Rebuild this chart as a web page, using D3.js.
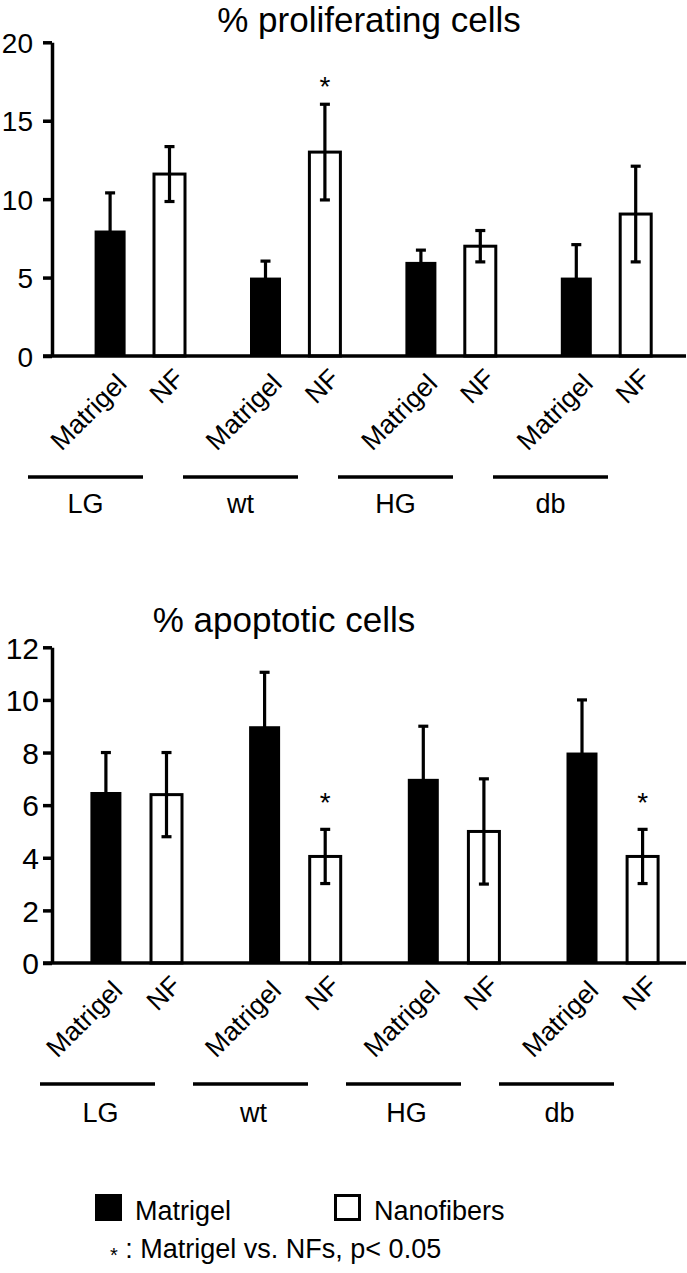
<!DOCTYPE html>
<html><head><meta charset="utf-8">
<script src="https://cdn.jsdelivr.net/npm/d3@7"></script>
<style>
body{margin:0;background:#fff}
svg text{font-family:"Liberation Sans",Arial,Helvetica,sans-serif;fill:#000}
</style>
</head><body>
<svg id="chart" width="687" height="1273"></svg>
<script>
// ---------- data ----------
const groups = ["LG", "wt", "HG", "db"];
const conditions = ["Matrigel", "NF"];
const legendLabels = ["Matrigel", "Nanofibers"];
const footnoteText = ": Matrigel vs. NFs, p< 0.05";

const prolifTitle = "% proliferating cells";
const prolifMatrigel = [8.0, 5.0, 6.0, 5.0];
const prolifMatrigelErr = [2.4, 1.05, 0.75, 2.1];
const prolifNF = [11.6, 13.0, 7.0, 9.05];
const prolifNFErr = [1.75, 3.05, 1.0, 3.05];
const prolifSig = [false, true, false, false];
const prolifTicks = [0, 5, 10, 15, 20];

const apopTitle = "% apoptotic cells";
const apopMatrigel = [6.5, 9.0, 7.0, 8.0];
const apopMatrigelErr = [1.5, 2.05, 2.0, 2.0];
const apopNF = [6.4, 4.05, 5.0, 4.05];
const apopNFErr = [1.6, 1.03, 2.0, 1.03];
const apopSig = [false, true, false, true];
const apopTicks = [0, 2, 4, 6, 8, 10, 12];

// ---------- drawing ----------
const svg = d3.select("#chart");
const INK = "#000";
const catOffset = {Matrigel: [18, 29], NF: [16, 24]};

function panel(cfg) {
  const g = svg.append("g");
  const rows = [];
  groups.forEach((grp, i) => {
    rows.push({group: grp, cond: "Matrigel", v: cfg.matrigel[i], e: cfg.matrigelErr[i], sig: false});
    rows.push({group: grp, cond: "NF", v: cfg.nf[i], e: cfg.nfErr[i], sig: cfg.sig[i]});
  });

  const y = d3.scaleLinear().domain([0, d3.max(cfg.ticks)]).range([cfg.y0, cfg.yTop]);
  const x0 = d3.scaleBand().domain(groups)
    .range([cfg.c0 - cfg.step / 2, cfg.c0 - cfg.step / 2 + groups.length * cfg.step]);
  const pi = 1 - cfg.barW / cfg.innerStep;
  const po = (cfg.step / cfg.innerStep - 2 + pi) / 2;
  const x1 = d3.scaleBand().domain(conditions).range([0, cfg.step]).paddingInner(pi).paddingOuter(po);
  const cx = d => x0(d.group) + x1(d.cond) + x1.bandwidth() / 2;

  // bars
  g.selectAll("rect.bar").data(rows).join("rect")
    .attr("class", "bar")
    .attr("x", d => cx(d) - cfg.barW / 2)
    .attr("width", cfg.barW)
    .attr("y", d => y(d.v))
    .attr("height", d => y(0) - y(d.v))
    .attr("fill", d => d.cond === "Matrigel" ? INK : "#fff")
    .attr("stroke", d => d.cond === "Matrigel" ? "none" : INK)
    .attr("stroke-width", 3);

  // error bars
  const eb = g.selectAll("g.err").data(rows).join("g").attr("class", "err")
    .attr("stroke", INK).attr("stroke-width", 3.2);
  eb.append("line").attr("x1", cx).attr("x2", cx)
    .attr("y1", d => y(d.v - d.e)).attr("y2", d => y(d.v + d.e));
  eb.append("line").attr("x1", d => cx(d) - 5).attr("x2", d => cx(d) + 5)
    .attr("y1", d => y(d.v + d.e)).attr("y2", d => y(d.v + d.e));
  eb.append("line").attr("x1", d => cx(d) - 5).attr("x2", d => cx(d) + 5)
    .attr("y1", d => y(d.v - d.e)).attr("y2", d => y(d.v - d.e));

  // significance stars
  g.selectAll("text.star").data(rows.filter(d => d.sig)).join("text")
    .attr("class", "star")
    .attr("x", cx).attr("y", d => y(d.v + d.e) - cfg.starOff)
    .attr("text-anchor", "middle").attr("font-size", 28).text("*");

  // y axis
  const ax = g.append("g").attr("transform", `translate(${cfg.axisX},0)`)
    .call(d3.axisLeft(y).tickValues(cfg.ticks).tickSize(9).tickSizeOuter(0).tickPadding(cfg.tickPad));
  ax.select(".domain").attr("stroke", INK).attr("stroke-width", 3.5);
  ax.selectAll(".tick line").attr("stroke", INK).attr("stroke-width", 3.5);
  ax.selectAll(".tick text").attr("font-size", cfg.tickFont).attr("fill", INK)
    .attr("font-family", null).attr("dy", "0.36em");

  // x axis line
  g.append("line").attr("x1", cfg.axisX - 9).attr("x2", cfg.xEnd)
    .attr("y1", y(0)).attr("y2", y(0)).attr("stroke", INK).attr("stroke-width", 3.5);

  // rotated category labels
  g.selectAll("text.cat").data(rows).join("text")
    .attr("class", "cat")
    .attr("text-anchor", "end")
    .attr("font-size", 26.5)
    .attr("transform", d => `translate(${cx(d) + catOffset[d.cond][0]},${y(0) + catOffset[d.cond][1]}) rotate(-45)`)
    .text(d => d.cond);

  // group underlines and labels
  const ul = d3.scaleBand().domain(groups).range(cfg.ulRange).paddingInner(cfg.ulPad);
  g.selectAll("line.ul").data(groups).join("line").attr("class", "ul")
    .attr("x1", d => ul(d)).attr("x2", d => ul(d) + ul.bandwidth())
    .attr("y1", cfg.ulY).attr("y2", cfg.ulY)
    .attr("stroke", INK).attr("stroke-width", 3.5);
  g.selectAll("text.grp").data(groups).join("text").attr("class", "grp")
    .attr("x", d => ul(d) + ul.bandwidth() / 2 + cfg.grpDx).attr("y", cfg.grpY)
    .attr("text-anchor", "middle").attr("font-size", 27).text(d => d);

  // title
  g.append("text").attr("x", cfg.titleX).attr("y", cfg.titleY)
    .attr("text-anchor", "middle").attr("font-size", 35).text(cfg.title);
}

panel({
  title: prolifTitle, matrigel: prolifMatrigel, matrigelErr: prolifMatrigelErr,
  nf: prolifNF, nfErr: prolifNFErr, sig: prolifSig, ticks: prolifTicks,
  y0: 356, yTop: 42.3, c0: 139.8, step: 155.4, innerStep: 59.4, barW: 31,
  axisX: 52, xEnd: 686, tickPad: 10, tickFont: 28, starOff: 8,
  ulRange: [28, 608], ulPad: 40 / 155, ulY: 477, grpY: 513, grpDx: 0,
  titleX: 369, titleY: 32
});

panel({
  title: apopTitle, matrigel: apopMatrigel, matrigelErr: apopMatrigelErr,
  nf: apopNF, nfErr: apopNFErr, sig: apopSig, ticks: apopTicks,
  y0: 963, yTop: 647.3, c0: 136.2, step: 158.7, innerStep: 60.6, barW: 31,
  axisX: 52, xEnd: 686, tickPad: 4, tickFont: 30, starOff: 17,
  ulRange: [40, 614], ulPad: 38 / 153, ulY: 1084, grpY: 1122, grpDx: 3,
  titleX: 284, titleY: 632
});

// legend
const leg = svg.append("g");
const legItems = [
  {label: legendLabels[0], fill: INK, x: 95},
  {label: legendLabels[1], fill: "#fff", x: 334}
];
leg.selectAll("rect").data(legItems).join("rect")
  .attr("x", d => d.x + 1.5).attr("y", 1195.5).attr("width", 24).attr("height", 24)
  .attr("fill", d => d.fill).attr("stroke", INK).attr("stroke-width", 3);
leg.selectAll("text").data(legItems).join("text")
  .attr("x", d => d.x + 40).attr("y", 1220).attr("font-size", 27).text(d => d.label);

const fn = svg.append("text").attr("x", 110).attr("y", 1258).attr("font-size", 27);
fn.append("tspan").attr("font-size", 20).attr("dy", 4).text("*");
fn.append("tspan").attr("dy", -4).text(" " + footnoteText);
</script>
</body></html>
